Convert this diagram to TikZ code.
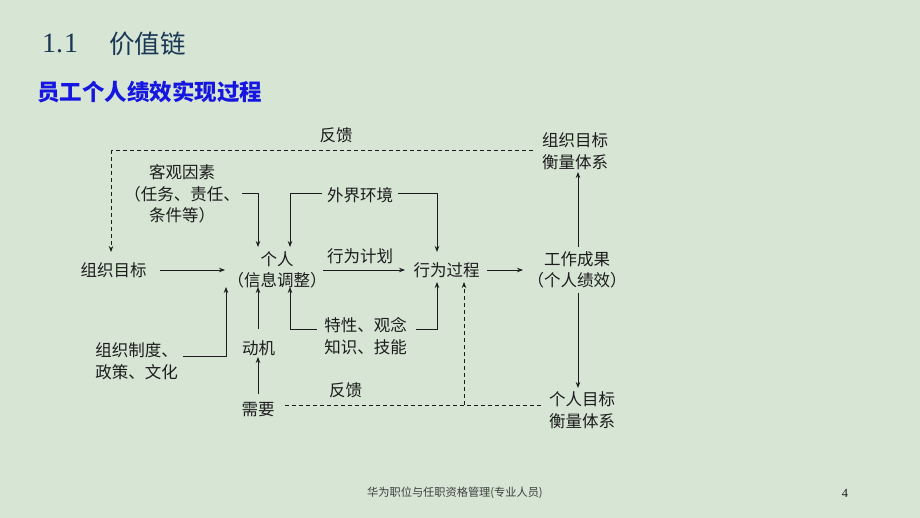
\documentclass[tikz,border=0pt]{standalone}
\usepackage{fontspec}
\setmainfont{Liberation Serif}
\newfontfamily\cjk{Noto Sans CJK SC}
\usetikzlibrary{arrows.meta}
\definecolor{bg}{RGB}{214,229,212}
\definecolor{ink}{RGB}{28,28,28}
\definecolor{titlec}{RGB}{26,56,86}
\definecolor{subc}{RGB}{22,22,225}
\begin{document}
\begin{tikzpicture}[x=1pt,y=-1pt,
  lbl/.style={font=\cjk\fontsize{16.5}{21.5}\selectfont, text=ink, inner sep=0pt, align=center},
  arr/.style={draw=ink, line width=0.8pt, -{Stealth[length=6pt,width=4.5pt]}},
  ln/.style={draw=ink, line width=0.8pt},
  dsh/.style={draw=ink, line width=0.8pt, dash pattern=on 4pt off 3pt}]
\fill[bg] (0,0) rectangle (920,518);
\useasboundingbox (0,0) rectangle (920,518);
% titles
\node[anchor=west, text=titlec, font=\fontsize{28}{32}\selectfont, inner sep=0pt] (t1) at (42,43) {1.\kern1pt1};
\node[anchor=west, text=titlec, font=\cjk\fontsize{25.5}{30}\selectfont, inner sep=0pt] (t2) at (109,44) {价值链};
\node[anchor=west, text=subc, font=\cjk\bfseries\fontsize{22.5}{27}\selectfont, inner sep=0pt] (sub) at (37,92) {员工个人绩效实现过程};
% diagram nodes
\node[lbl] (zzmb) at (113.5,270) {组织目标};
\node[lbl] (gr) at (277,270) {个人\\（信息调整）};
\node[lbl] (xwgc) at (446.5,270) {行为过程};
\node[lbl] (gzcg) at (577,270) {工作成果\\（个人绩效）};
\node[lbl] (zzheng) at (575,151) {组织目标\\衡量体系};
\node[lbl] (grheng) at (582,410) {个人目标\\衡量体系};
\node[lbl] (kgys) at (182,194) {客观因素\\（任务、责任、\\条件等）};
\node[lbl] (wjhj) at (360,195) {外界环境};
\node[lbl] (xwjh) at (360,256) {行为计划};
\node[lbl] (txgn) at (365.5,336) {特性、观念\\知识、技能};
\node[lbl] (dj) at (258.5,348) {动机};
\node[lbl] (xy) at (258,410) {需要};
\node[lbl, align=left] (zzzd) at (136.5,361) {组织制度、\\政策、文化};
\node[lbl] (fk1) at (336,135) {反馈};
\node[lbl] (fk2) at (345.5,390) {反馈};
% footer
\node[font=\cjk\fontsize{11.2}{13}\selectfont, text=ink!85, inner sep=0pt, anchor=west] (foot) at (367,493) {华为职位与任职资格管理(专业人员)};
\node[font=\fontsize{12.5}{14}\selectfont, text=ink, inner sep=0pt] (pg) at (845,493) {4};
% main flow
\draw[arr] ([xshift=13pt]zzmb.east) -- (225,270);
\draw[arr] (323,270) -- (405,270);
\draw[arr] (487,270) -- (523,270);
\draw[arr] (578,247) -- (578,172);
\draw[arr] (578,293) -- (578,388);
% inputs from above
\draw[arr] (242,193) -- (258,193) -- (258,247);
\draw[arr] (322,193) -- (290,193) -- (290,247);
\draw[arr] (398,193) -- (437,193) -- (437,252);
% inputs from below
\draw[arr] (183,356) -- (226,356) -- (226,287);
\draw[arr] (258,329) -- (258,287);
\draw[arr] (258,394) -- (258,357);
\draw[arr] (317,329) -- (290,329) -- (290,287);
\draw[arr] (416,329) -- (437,329) -- (437,282);
% feedback loops
\draw[dsh] (533,150) -- (111,150);
\draw[dsh, -{Stealth[length=6pt,width=4.5pt]}] (111,150) -- (111,252);
\draw[dsh] (285,405) -- (543,405);
\draw[dsh, -{Stealth[length=6pt,width=4.5pt]}] (464,405) -- (464,282);
\end{tikzpicture}
\end{document}
